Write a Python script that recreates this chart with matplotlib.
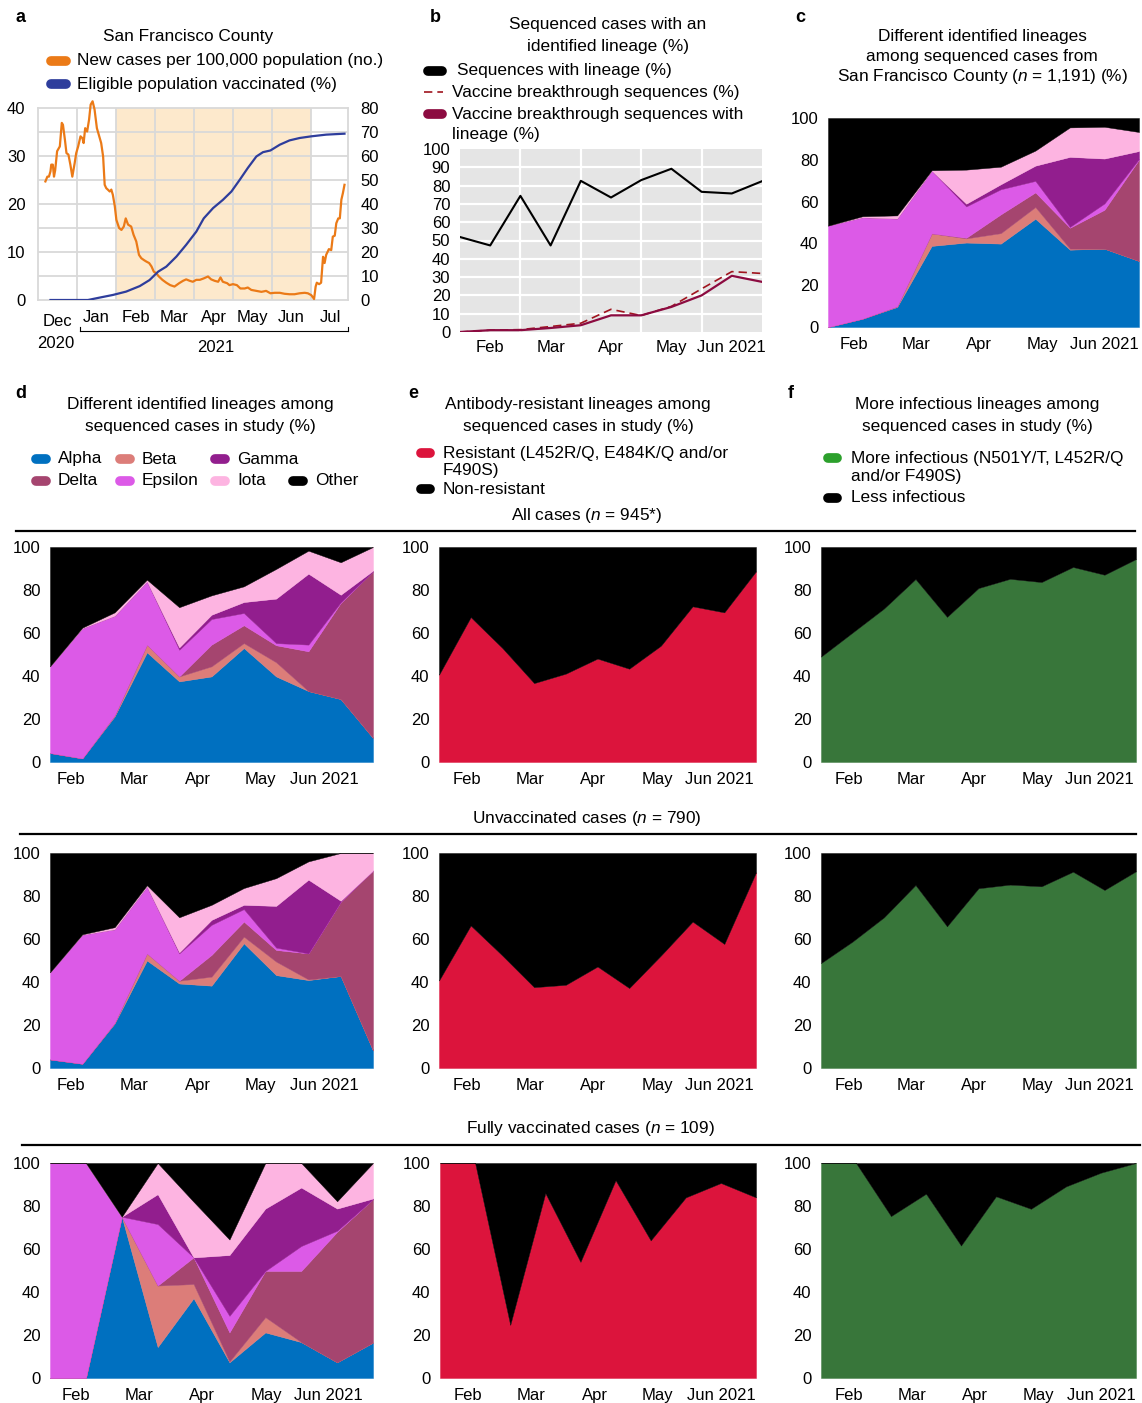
import matplotlib
matplotlib.use('Agg')
import matplotlib.pyplot as plt
from matplotlib.lines import Line2D
import numpy as np

plt.rcParams['font.family'] = ['Liberation Sans', 'DejaVu Sans']
plt.rcParams['mathtext.fontset'] = 'custom'
plt.rcParams['mathtext.rm'] = 'Liberation Sans'
plt.rcParams['mathtext.it'] = 'Liberation Sans:italic'

# ---------------- data ----------------
# panel a: x in months since 1 Dec 2020 (equal-width month axis)
case_t = [0.19, 0.24, 0.28, 0.32, 0.34, 0.38, 0.41, 0.44, 0.49, 0.56, 0.61, 0.64, 0.69, 0.73,
          0.78, 0.83, 0.88, 0.94, 0.98, 1.03, 1.09, 1.14, 1.17, 1.21, 1.26, 1.31, 1.35, 1.40,
          1.45, 1.51, 1.56, 1.62, 1.67, 1.71, 1.75, 1.79, 1.84, 1.88, 1.92, 1.97, 2.01, 2.08,
          2.14, 2.20, 2.25, 2.31, 2.39, 2.45, 2.52, 2.59, 2.65, 2.72, 2.78, 2.85, 2.91, 2.97,
          3.03, 3.10, 3.19, 3.29, 3.39, 3.50, 3.62, 3.72, 3.80, 3.89, 3.97, 4.06, 4.15, 4.25,
          4.36, 4.44, 4.53, 4.62, 4.68, 4.74, 4.85, 4.91, 5.00, 5.10, 5.19, 5.30, 5.38, 5.47,
          5.60, 5.73, 5.85, 5.96, 6.07, 6.20, 6.32, 6.45, 6.58, 6.71, 6.84, 6.92, 7.01, 7.08,
          7.12, 7.15, 7.21, 7.26, 7.31, 7.35, 7.39, 7.46, 7.52, 7.56, 7.61, 7.65, 7.70, 7.74,
          7.78, 7.82, 7.86]
case_v = [24.7, 25.7, 25.7, 26.8, 28.2, 28.2, 25.7, 27.0, 31.0, 32.0, 36.9, 36.5, 33.4, 30.6,
          30.3, 28.2, 25.7, 28.5, 30.6, 32.0, 34.1, 33.7, 32.7, 35.8, 35.1, 37.6, 40.7, 41.4,
          39.7, 35.8, 34.4, 32.7, 29.9, 24.0, 23.3, 23.0, 22.6, 23.0, 21.9, 19.5, 16.7, 15.0,
          14.6, 15.3, 17.0, 15.7, 15.3, 13.6, 12.2, 9.4, 8.7, 8.3, 8.0, 7.7, 7.0, 5.9,
          5.6, 4.9, 4.2, 3.6, 3.1, 2.8, 3.5, 4.0, 4.3, 4.0, 3.8, 4.2, 4.2, 4.5,
          4.9, 4.3, 4.0, 3.8, 4.7, 3.8, 3.5, 3.1, 3.3, 3.1, 2.4, 2.4, 2.6, 2.1,
          1.9, 1.7, 1.9, 1.4, 1.5, 1.5, 1.3, 1.2, 1.2, 1.4, 1.5, 1.4, 1.0, 0.2,
          2.8, 3.6, 3.3, 3.6, 9.0, 7.7, 9.4, 10.6, 10.4, 13.2, 13.4, 16.0, 17.0, 17.0,
          20.9, 22.3, 24.0]
vax_t = [0.32, 1.28, 1.58, 1.92, 2.26, 2.61, 2.86, 3.08, 3.29, 3.55, 3.80, 4.06, 4.25, 4.49,
         4.74, 4.96, 5.17, 5.38, 5.60, 5.77, 5.96, 6.20, 6.45, 6.71, 7.01, 7.39, 7.86]
vax_v = [0, 0, 1.0, 2.1, 3.5, 5.8, 8.3, 11.8, 13.9, 18.1, 23.0, 28.5, 34.0, 38.3,
         41.7, 45.2, 50.0, 55.0, 59.8, 61.6, 62.3, 64.7, 66.5, 67.5, 68.2, 68.9, 69.3]
a_months = ['Dec', 'Jan', 'Feb', 'Mar', 'Apr', 'May', 'Jun', 'Jul']

# panel b (11 half-month periods)
b_lineage = [51.9, 47.3, 74.4, 47.3, 82.6, 73.5, 83.0, 89.2, 76.6, 75.7, 82.4]
b_breakthrough = [0, 1.0, 1.3, 3.0, 4.8, 12.4, 9.0, 14.0, 23.6, 33.0, 32.0]
b_breakthrough_lineage = [0, 1.0, 1.0, 2.2, 3.7, 9.1, 9.1, 13.7, 20.0, 30.7, 27.4]

month_labels = ['Feb', 'Mar', 'Apr', 'May', 'Jun 2021']

# panel c (10 periods)
c_alpha = [0, 4, 9.6, 38.8, 40.4, 39.9, 51.8, 37, 37.5, 31.6]
c_beta = [0, 0, 0.3, 6, 2, 5, 5.6, 0.5, 0, 0]
c_delta = [0, 0, 0, 0, 0.3, 9, 7, 10, 18.6, 48.5]
c_epsilon = [48.5, 48.5, 42, 30, 15, 12, 5.5, 0.4, 3, 0.3]
c_gamma = [0, 0, 0, 0, 1.3, 2.4, 7.3, 33.5, 21.5, 3.8]
c_iota = [0, 0.5, 1.5, 0.2, 16.3, 8.4, 7.2, 14.1, 15.2, 9.1]

# panel d
d_all_alpha = [4.2, 1.7, 21.2, 51, 37.5, 39.8, 53, 39.8, 33, 29.3, 11.2]
d_all_beta = [0, 0, 0.5, 3.6, 2.3, 4.7, 2.3, 6.6, 0, 0, 0]
d_all_delta = [0, 0, 0, 0, 0, 10.1, 8.3, 7.9, 18.5, 44.7, 77.5]
d_all_epsilon = [40.3, 60.5, 46.3, 29.4, 12.4, 11.9, 5.7, 1, 3.1, 0.3, 0]
d_all_gamma = [0, 0, 0, 0, 1.1, 2, 5.1, 20.7, 33, 3.5, 0.3]
d_all_iota = [0, 0.3, 1.6, 0.8, 18.7, 9, 7.3, 13.8, 10.7, 15.1, 11]

d_unvax_alpha = [4, 2, 20.7, 50, 39.3, 38.3, 58, 43.2, 40.9, 42.8, 8.2]
d_unvax_beta = [0, 0, 0.3, 3.3, 1.3, 4.2, 3.1, 6.3, 0.3, 0, 0]
d_unvax_delta = [0, 0, 0, 0, 0, 10.1, 7, 5.4, 12.1, 34.6, 83.7]
d_unvax_epsilon = [40.5, 60, 43.5, 31.1, 12.7, 14, 5.8, 1.1, 0, 0, 0]
d_unvax_gamma = [0, 0, 0, 0, 0.5, 2.3, 2, 19.4, 34.3, 0.4, 0]
d_unvax_iota = [0, 0.2, 1, 0.6, 16.3, 7, 7.8, 12.9, 8.5, 22.2, 8.1]

d_vax_alpha = [0, 0, 75, 14.4, 37.1, 7.3, 21.2, 16.7, 7.3, 16.5]
d_vax_beta = [0, 0, 0, 28.6, 6.6, 0.4, 7.1, 0, 0, 0]
d_vax_delta = [0, 0, 0, 0, 12.4, 13.5, 21.5, 33.1, 60.7, 66.7]
d_vax_epsilon = [100, 100, 0, 28.6, 0, 7.7, 0, 11.6, 0.5, 0]
d_vax_gamma = [0, 0, 0, 13.9, 0, 28.3, 29, 27.2, 10.3, 0.3]
d_vax_iota = [0, 0, 0, 14.5, 25.9, 7.2, 21.2, 11.4, 3.4, 16.5]

# panel e (resistant %) and f (more infectious %)
e_all = [40.6, 67.4, 53, 36.7, 41.1, 48.1, 43.4, 54.1, 72.4, 69.6, 88.7]
e_unvax = [40.7, 66.3, 52.3, 37.6, 38.7, 47.2, 37.2, 52.3, 68.1, 57.7, 91]
e_vax = [100, 100, 24.7, 86, 54, 92, 64, 84, 90.7, 84]
f_all = [49, 60.2, 71.4, 85.1, 67.5, 80.9, 85.2, 83.7, 90.7, 87.1, 94.4]
f_unvax = [48.8, 58.8, 70.1, 85.1, 65.9, 83.6, 85.3, 84.5, 91.3, 82.8, 91.5]
f_vax = [100, 100, 75.3, 85.7, 61.6, 84.5, 78.7, 89.1, 95.5, 100]

lineage_names = ['Alpha', 'Beta', 'Delta', 'Epsilon', 'Gamma', 'Iota', 'Other']
lineage_colors = ['#0070C0', '#DC7D79', '#A5456F', '#DC5AE7', '#921E8E', '#FDB4E1', '#000000']

# ---------------- figure ----------------
W, H = 1142, 1403
fig = plt.figure(figsize=(W / 100, H / 100), dpi=100)
TXT = 12.4
TCK = 12


def add_ax(l, t, r, b):
    return fig.add_axes([l / W, 1 - b / H, (r - l) / W, (b - t) / H])


def ftext(x, y, s, **kw):
    kw.setdefault('fontsize', TXT)
    kw.setdefault('va', 'center')
    fig.text(x / W, 1 - y / H, s, **kw)


def fline(x0, x1, y0, y1=None, **kw):
    if y1 is None:
        y1 = y0
    fig.add_artist(Line2D([x0 / W, x1 / W], [1 - y0 / H, 1 - y1 / H],
                          transform=fig.transFigure, **kw))


def swatch(x0, x1, y, color, lw=7):
    fline(x0, x1, y, color=color, lw=lw, solid_capstyle='round')


# ---- panel a ----
ax = add_ax(38, 108, 348, 300)
ax.axvspan(2, 7, color='#FDE9CC', lw=0, zorder=0)
for v in range(1, 8):
    ax.axvline(v, color='#D9D9D9', lw=1.3, zorder=1)
for h in np.arange(5, 40, 5):
    ax.axhline(h, color='#D9D9D9', lw=1.3, zorder=1)
ax.plot(case_t, case_v, color='#EB7A17', lw=1.6, zorder=3, clip_on=False)
ax.set_xlim(0, 7.95)
ax.set_ylim(0, 40)
ax.set_yticks(range(0, 41, 10))
ax.set_xticks(np.arange(len(a_months)) + 0.5)
ax.set_xticklabels(a_months)
ax.tick_params(length=0, labelsize=TCK, pad=7)
ax.tick_params(axis='y', pad=9)
ax.get_xticklabels()[0].set_y(-0.02)
for s in ax.spines.values():
    s.set_color('#D9D9D9')
    s.set_linewidth(1.3)
ax2 = ax.twinx()
ax2.plot(vax_t, vax_v, color='#2E3D9C', lw=1.6, zorder=3)
ax2.set_ylim(0, 80)
ax2.set_yticks(range(0, 81, 10))
ax2.tick_params(length=0, labelsize=TCK, pad=9)
for s in ax2.spines.values():
    s.set_visible(False)
ftext(56, 343, '2020', ha='center', fontsize=TCK)
ftext(216, 348, '2021', ha='center', fontsize=TCK)
fline(80, 348, 331, color='black', lw=0.8)
fline(80, 80, 331, 327, color='black', lw=0.8)
fline(348, 348, 331, 327, color='black', lw=0.8)

ftext(15, 18, 'a', fontweight='bold', fontsize=13)
ftext(188, 36, 'San Francisco County', ha='center')
swatch(51, 66, 61, '#EB7A17')
ftext(77, 61, 'New cases per 100,000 population (no.)')
swatch(51, 66, 84, '#2E3D9C')
ftext(77, 84, 'Eligible population vaccinated (%)')

# ---- panel b ----
ax = add_ax(460, 149, 762, 332)
ax.set_facecolor('#E5E5E5')
xb = np.arange(len(b_lineage))
for h in range(10, 100, 10):
    ax.axhline(h, color='white', lw=1.6, zorder=1)
for v in [2, 4, 6, 8]:
    ax.axvline(v, color='white', lw=1.6, zorder=1)
ax.plot(xb, b_lineage, color='black', lw=1.5, zorder=3)
ax.plot(xb, b_breakthrough, color='#A0141E', lw=1.2, ls=(0, (5, 3)), zorder=3)
ax.plot(xb, b_breakthrough_lineage, color='#8C0B40', lw=1.6, zorder=3)
ax.set_xlim(0, 10)
ax.set_ylim(0, 100)
ax.set_yticks(range(0, 101, 10))
ax.set_xticks([1, 3, 5, 7, 9])
ax.set_xticklabels(month_labels)
ax.tick_params(length=0, labelsize=TCK, pad=6)
ax.tick_params(axis='y', pad=7)
for s in ax.spines.values():
    s.set_visible(False)

ftext(430, 18, 'b', fontweight='bold', fontsize=13)
ftext(608, 25, 'Sequenced cases with an', ha='center')
ftext(608, 46, 'identified lineage (%)', ha='center')
swatch(428, 442, 71, 'black')
ftext(457, 71, 'Sequences with lineage (%)')
fline(424, 443, 92, color='#A0141E', lw=1.2, ls=(0, (5, 3)))
ftext(452, 92, 'Vaccine breakthrough sequences (%)')
swatch(428, 442, 114, '#8C0B40')
ftext(452, 114, 'Vaccine breakthrough sequences with')
ftext(452, 135, 'lineage (%)')


# ---- stacked helper ----
def stacked(box, layers, ticks):
    ax = add_ax(*box)
    n = len(layers[0])
    x = np.arange(n)
    other = 100 - np.sum(np.array(layers, dtype=float), axis=0)
    allv = list(layers) + [np.clip(other, 0, None)]
    polys = ax.stackplot(x, *allv, colors=lineage_colors, lw=0)
    for p, c in zip(polys, lineage_colors):
        p.set_edgecolor(c)
        p.set_linewidth(0.3)
    ax.set_xlim(0, n - 1)
    ax.set_ylim(0, 100)
    ax.set_yticks(range(0, 101, 20))
    ax.set_xticks(ticks)
    ax.set_xticklabels(month_labels)
    ax.tick_params(length=0, labelsize=TCK, pad=7)
    for s in ax.spines.values():
        s.set_visible(False)
    return ax


def binary(box, vals, color, ticks):
    ax = add_ax(*box)
    n = len(vals)
    x = np.arange(n)
    rest = [100 - v for v in vals]
    polys = ax.stackplot(x, vals, rest, colors=[color, 'black'], lw=0)
    for p, c in zip(polys, [color, 'black']):
        p.set_edgecolor(c)
        p.set_linewidth(0.3)
    ax.set_xlim(0, n - 1)
    ax.set_ylim(0, 100)
    ax.set_yticks(range(0, 101, 20))
    ax.set_xticks(ticks)
    ax.set_xticklabels(month_labels)
    ax.tick_params(length=0, labelsize=TCK, pad=7)
    for s in ax.spines.values():
        s.set_visible(False)
    return ax


# ---- panel c ----
stacked((828, 118, 1139, 327),
        [c_alpha, c_beta, c_delta, c_epsilon, c_gamma, c_iota],
        [0.76, 2.55, 4.36, 6.22, 8.0])
ftext(795, 18, 'c', fontweight='bold', fontsize=13)
ftext(982, 36, 'Different identified lineages', ha='center')
ftext(982, 57, 'among sequenced cases from', ha='center')
ftext(982, 77, 'San Francisco County ($n$ = 1,191) (%)', ha='center')

# ---- panels d, e, f ----
d_ticks11 = [0.65, 2.6, 4.57, 6.53, 8.48]
d_ticks10 = [0.72, 2.49, 4.24, 6.03, 7.76]
ef_ticks11 = [0.88, 2.87, 4.87, 6.88, 8.85]
ef_ticks10 = [0.8, 2.6, 4.4, 6.2, 8.0]
RED = '#DC143C'
GREEN = '#38763A'

stacked((50, 547, 373, 762),
        [d_all_alpha, d_all_beta, d_all_delta, d_all_epsilon, d_all_gamma, d_all_iota], d_ticks11)
stacked((50, 853, 373, 1068),
        [d_unvax_alpha, d_unvax_beta, d_unvax_delta, d_unvax_epsilon, d_unvax_gamma, d_unvax_iota], d_ticks11)
stacked((50, 1163, 373, 1378),
        [d_vax_alpha, d_vax_beta, d_vax_delta, d_vax_epsilon, d_vax_gamma, d_vax_iota], d_ticks10)

binary((439, 547, 756, 762), e_all, RED, ef_ticks11)
binary((439, 853, 756, 1068), e_unvax, RED, ef_ticks11)
binary((440, 1163, 756, 1378), e_vax, RED, ef_ticks10)

binary((821, 547, 1136, 762), f_all, GREEN, ef_ticks11)
binary((821, 853, 1136, 1068), f_unvax, GREEN, ef_ticks11)
binary((821, 1163, 1136, 1378), f_vax, GREEN, ef_ticks10)

# section headers
ftext(587, 515, 'All cases ($n$ = 945*)', ha='center')
fline(16, 1135, 531, color='black', lw=1.6)
ftext(587, 818, 'Unvaccinated cases ($n$ = 790)', ha='center')
fline(20, 1136, 834, color='black', lw=1.6)
ftext(590, 1128, 'Fully vaccinated cases ($n$ = 109)', ha='center')
fline(22, 1140, 1145, color='black', lw=1.6)

# d titles & legend
ftext(15, 393, 'd', fontweight='bold', fontsize=13)
ftext(200, 405, 'Different identified lineages among', ha='center')
ftext(200, 427, 'sequenced cases in study (%)', ha='center')
leg_pos = {'Alpha': (33, 459), 'Beta': (117, 459), 'Gamma': (212, 459),
           'Delta': (33, 481), 'Epsilon': (117, 481), 'Iota': (212, 481), 'Other': (290, 481)}
for name, col in zip(lineage_names, lineage_colors):
    x0, y0 = leg_pos[name]
    swatch(x0 + 3, x0 + 13, y0, col)
    ftext(x0 + 25, y0, name)

# e titles & legend
ftext(408, 393, 'e', fontweight='bold', fontsize=13)
ftext(578, 405, 'Antibody-resistant lineages among', ha='center')
ftext(578, 427, 'sequenced cases in study (%)', ha='center')
swatch(421, 430, 453, RED)
ftext(443, 453, 'Resistant (L452R/Q, E484K/Q and/or')
ftext(443, 470, 'F490S)')
swatch(421, 430, 489, 'black')
ftext(443, 489, 'Non-resistant')

# f titles & legend
ftext(788, 393, 'f', fontweight='bold', fontsize=13)
ftext(977, 405, 'More infectious lineages among', ha='center')
ftext(977, 427, 'sequenced cases in study (%)', ha='center')
swatch(828, 837, 458, '#2CA02C')
ftext(851, 458, 'More infectious (N501Y/T, L452R/Q')
ftext(851, 477, 'and/or F490S)')
swatch(828, 837, 498, 'black')
ftext(851, 498, 'Less infectious')

fig.savefig('out.png', dpi=100)
